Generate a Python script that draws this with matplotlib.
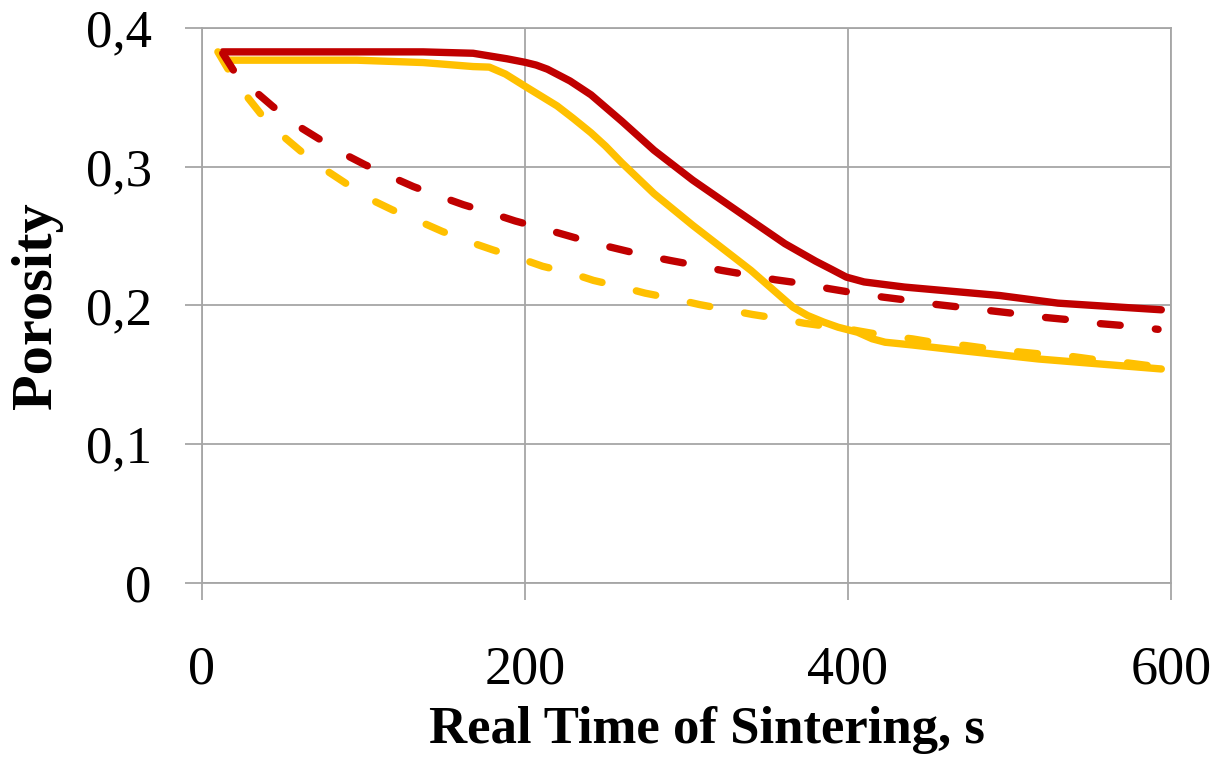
import matplotlib
matplotlib.use("Agg")
import matplotlib.pyplot as plt

# Porosity vs real time of sintering
red_solid_t = [13, 60, 100, 137, 168, 189, 200, 207, 214, 228, 241, 260, 280, 304, 340, 361, 380,
               390, 399, 410, 435, 494, 530, 594]
red_solid_p = [0.383, 0.383, 0.383, 0.383, 0.382, 0.378, 0.3755, 0.3735, 0.3705, 0.362, 0.352,
               0.333, 0.312, 0.2904, 0.2614, 0.2446, 0.232, 0.226, 0.2205, 0.217, 0.2133, 0.2072,
               0.2017, 0.1969]

yel_solid_t = [17, 60, 96, 137, 168, 178, 188, 199, 220, 230, 241, 250, 260, 280, 304, 340, 366,
               375, 385, 394, 406, 415, 423, 440, 470, 518, 594]
yel_solid_p = [0.377, 0.377, 0.377, 0.3753, 0.3724, 0.372, 0.367, 0.359, 0.344, 0.335, 0.3246,
               0.315, 0.303, 0.2807, 0.2578, 0.2253, 0.1988, 0.1928, 0.188, 0.1843, 0.1807, 0.176,
               0.1735, 0.1715, 0.1675, 0.1614, 0.1542]

red_dash_t = [13, 19.5, 32, 44, 59, 71.5, 87, 101, 117, 131, 148, 162, 179, 194, 211, 226, 242.5,
              257, 274.5, 290, 306.5, 322, 340, 355, 373, 388, 405, 422, 438.5, 455, 472, 488.5,
              505, 520, 538, 553, 571, 592]
red_dash_p = [0.382, 0.370, 0.3556, 0.3436, 0.330, 0.321, 0.310, 0.3016, 0.293, 0.2858, 0.2785,
              0.2727, 0.2667, 0.261, 0.2556, 0.2506, 0.2451, 0.241, 0.2361, 0.2325, 0.2289,
              0.2253, 0.2217, 0.2186, 0.2157, 0.2122, 0.2089, 0.206, 0.2036, 0.2007, 0.1985,
              0.1962, 0.194, 0.1916, 0.1896, 0.1872, 0.1855, 0.1828]

yel_dash_t = [10, 17.6, 28, 37, 50.5, 62, 76.5, 89, 105, 118, 135, 149, 165, 180, 197, 211, 229,
              242.5, 260, 274.5, 292.5, 308, 325.5, 341, 358, 373, 400, 423, 440, 456, 473, 489.5,
              506, 523, 539.5, 556, 573, 589, 600]
yel_dash_p = [0.383, 0.368, 0.3508, 0.3376, 0.322, 0.3107, 0.2979, 0.2883, 0.2763, 0.269, 0.2606,
              0.2534, 0.2462, 0.2402, 0.234, 0.2283, 0.2232, 0.2181, 0.2133, 0.2089, 0.2048,
              0.2007, 0.1969, 0.1935, 0.1904, 0.1872, 0.183, 0.1783, 0.1759, 0.1728, 0.1711,
              0.1685, 0.1665, 0.1646, 0.1631, 0.1605, 0.1586, 0.1562, 0.1554]

x_ticks = [0, 200, 400, 600]
y_ticks = [0, 0.1, 0.2, 0.3, 0.4]
y_labels = ["0", "0,1", "0,2", "0,3", "0,4"]

RED = "#C00000"
YELLOW = "#FFC000"
GRID = "#A6A6A6"

plt.rcParams["font.family"] = ["Liberation Serif", "DejaVu Serif"]

fig = plt.figure(figsize=(12.24, 7.59), dpi=100)
ax = fig.add_axes([0.1648, 0.2323, 0.7919, 0.7304])

lw = 5.3
dash = (0, (2.7, 4.8))
ax.plot(yel_solid_t, yel_solid_p, color=YELLOW, lw=lw, solid_capstyle="round",
        solid_joinstyle="round", zorder=3)
ax.plot(red_solid_t, red_solid_p, color=RED, lw=lw, solid_capstyle="round",
        solid_joinstyle="round", zorder=3)
ax.plot(yel_dash_t, yel_dash_p, color=YELLOW, lw=lw, linestyle=dash,
        dash_capstyle="round", zorder=4)
ax.plot(red_dash_t, red_dash_p, color=RED, lw=lw, linestyle=dash,
        dash_capstyle="round", zorder=4)

ax.set_xlim(0, 600)
ax.set_ylim(0, 0.4)
ax.set_xticks(x_ticks)
ax.set_yticks(y_ticks)
ax.set_yticklabels(y_labels)
ax.grid(True, color=GRID, lw=1.3)
ax.set_axisbelow(True)
for s in ax.spines.values():
    s.set_color(GRID)
    s.set_linewidth(1.3)
ax.tick_params(axis="both", length=12, width=1.3, color=GRID, direction="out")
ax.tick_params(axis="y", labelsize=38, pad=24)
ax.tick_params(axis="x", labelsize=39, pad=33)

ax.set_xlabel("Real Time of Sintering, s", fontsize=38, fontweight="bold")
ax.xaxis.set_label_coords(0.521, -0.222)
ax.set_ylabel("Porosity", fontsize=42, fontweight="bold")
ax.yaxis.set_label_coords(-0.143, 0.5)

fig.savefig("out.png", dpi=100)
